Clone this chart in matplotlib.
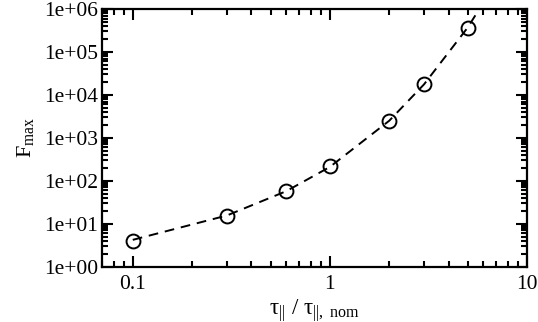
import matplotlib
matplotlib.use('Agg')
import matplotlib.pyplot as plt
from matplotlib.ticker import LogLocator, FuncFormatter, NullFormatter

# data
tau_ratio = [0.1, 0.3, 0.6, 1, 2, 3, 5]
f_max = [4.0, 15.5, 57, 215, 2500, 17500, 370000]

# dashed fit curve (continues past the last point, clipped at the top)
fit_x = [0.1, 0.3, 0.6, 1, 2, 3, 5, 6]
fit_y = [4.2, 15.5, 57, 210, 2500, 17500, 370000, 1.4e6]

plt.rcParams['font.family'] = ['Liberation Serif', 'DejaVu Serif']
plt.rcParams['mathtext.fontset'] = 'custom'
plt.rcParams['mathtext.rm'] = 'Liberation Serif'
plt.rcParams['mathtext.it'] = 'Liberation Serif'

fig = plt.figure(figsize=(5.38, 3.22), dpi=100)
ax = fig.add_axes([0.19, 0.172, 0.7896, 0.8])

ax.plot(fit_x, fit_y, color='black', lw=1.4, ls=(0, (5, 3.5)))
ax.plot(tau_ratio, f_max, ls='none', marker='o', ms=10, mfc='none',
        mec='black', mew=1.4)

ax.set_xscale('log')
ax.set_yscale('log')
ax.set_xlim(0.07, 10)
ax.set_ylim(1, 1e6)

ax.yaxis.set_major_locator(LogLocator(base=10, numticks=20))
ax.yaxis.set_minor_locator(LogLocator(base=10, subs=range(2, 10), numticks=100))
ax.xaxis.set_minor_locator(LogLocator(base=10, subs=range(2, 10), numticks=100))
ax.yaxis.set_major_formatter(FuncFormatter(lambda v, p: f'{v:.0e}'))
ax.xaxis.set_major_formatter(FuncFormatter(lambda v, p: f'{v:g}'))
ax.yaxis.set_minor_formatter(NullFormatter())
ax.xaxis.set_minor_formatter(NullFormatter())

ax.tick_params(which='both', direction='in', top=True, right=True,
               labelsize=15.5, width=1.5)
ax.tick_params(axis='y', pad=3)
ax.tick_params(axis='x', pad=6)
ax.tick_params(which='major', length=8)
ax.tick_params(which='minor', length=4.5)
for s in ax.spines.values():
    s.set_linewidth(1.6)

ax.set_xlabel(r'$\tau_{||}\ /\ \tau_{||,\ \mathrm{nom}}$', fontsize=16.5, labelpad=2)
ax.set_ylabel(r'$F_{\mathrm{max}}$', fontsize=16, labelpad=6)

fig.savefig('out.png', dpi=100)
